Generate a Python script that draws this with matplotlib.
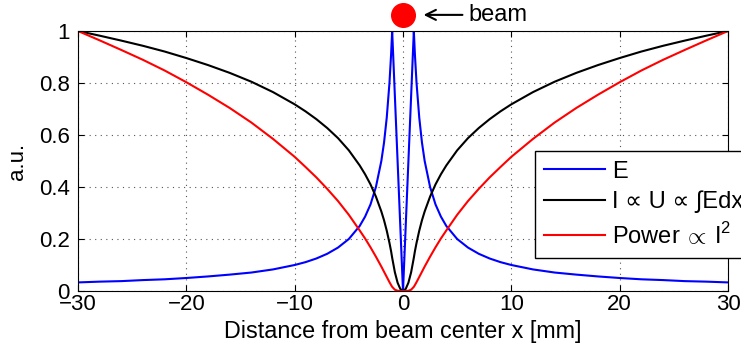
import numpy as np
import matplotlib
matplotlib.use("Agg")
import matplotlib.pyplot as plt

plt.rcParams['font.family'] = ['Liberation Sans', 'DejaVu Sans']
plt.rcParams['mathtext.fontset'] = 'custom'
plt.rcParams['mathtext.rm'] = 'Liberation Sans'

# one-sided positions (mm) and values (curves are symmetric about x=0)
x_half = [0, 0.25, 0.5, 0.75, 1, 1.1, 1.25, 1.5, 1.75, 2, 2.5, 3, 3.5, 4, 5, 6, 7, 8, 9, 10,
          12, 14, 16, 18, 20, 22, 24, 26, 28, 30]
E_half = [0, 0.25, 0.5, 0.75, 1, 0.909, 0.8, 0.667, 0.571, 0.5, 0.4, 0.333, 0.286, 0.25, 0.2,
          0.167, 0.143, 0.125, 0.111, 0.1, 0.083, 0.071, 0.063, 0.056, 0.05, 0.045, 0.042,
          0.038, 0.036, 0.033]
I_half = [0, 0.008, 0.032, 0.072, 0.128, 0.153, 0.185, 0.232, 0.272, 0.306, 0.363, 0.410,
          0.449, 0.483, 0.541, 0.588, 0.627, 0.661, 0.691, 0.718, 0.765, 0.805, 0.839, 0.869,
          0.896, 0.921, 0.943, 0.963, 0.982, 1.0]
P_half = [0, 0.0001, 0.001, 0.005, 0.016, 0.023, 0.034, 0.054, 0.074, 0.094, 0.132, 0.168,
          0.202, 0.233, 0.293, 0.346, 0.393, 0.437, 0.477, 0.516, 0.585, 0.648, 0.704, 0.755,
          0.803, 0.848, 0.889, 0.927, 0.964, 1.0]

labels = ['E', 'I \u221d U \u221d \u222bEdx', r'Power$\,\propto\,$I$^2$']
colors = ['#0000ff', '#000000', '#ff0000']

xh = np.array(x_half)
x = np.concatenate([-xh[:0:-1], xh])
def mirror(v):
    v = np.array(v)
    return np.concatenate([v[:0:-1], v])

FS = 16
fig = plt.figure(figsize=(7.41, 3.54), dpi=100)
ax = fig.add_axes([78/741, 1 - 291/354, 650/741, 260/354])

for vals, lab, c in zip([E_half, I_half, P_half], labels, colors):
    ax.plot(x, mirror(vals), color=c, lw=1.5, label=lab)

ax.set_xlim(-30, 30)
ax.set_ylim(0, 1)
ax.set_xticks([-30, -20, -10, 0, 10, 20, 30])
ax.set_xticklabels(['\u221230', '\u221220', '\u221210', '0', '10', '20', '30'])
ax.set_yticks([0, 0.2, 0.4, 0.6, 0.8, 1])
ax.set_yticklabels(['0', '0.2', '0.4', '0.6', '0.8', '1'])
ax.tick_params(direction='in', labelsize=FS, top=True, right=True, length=4)
ax.tick_params(axis='x', pad=2)
ax.tick_params(axis='y', pad=6)
ax.grid(True, linestyle=(0, (1, 4)), color='#555555', lw=0.8)
ax.set_xlabel('Distance from beam center x [mm]', fontsize=16.8, labelpad=4)
ax.set_ylabel('a.u.', fontsize=FS, labelpad=8)

# beam marker
ax.plot([0], [1.062], 'o', color='#ff0000', markersize=17, clip_on=False)
ax.annotate('beam', xy=(1.9, 1.062), xytext=(6.0, 1.062), fontsize=FS + 1,
            va='center', ha='left', annotation_clip=False,
            arrowprops=dict(arrowstyle='->', color='black', lw=1.5, mutation_scale=18,
                            shrinkA=2, shrinkB=0))

leg = ax.legend(loc='upper left', bbox_to_anchor=(0.703, 0.538), fontsize=17,
                frameon=True, fancybox=False, edgecolor='black', framealpha=1,
                handlelength=2.55, handletextpad=0.3, borderaxespad=0, labelspacing=0.35,
                borderpad=0.4)
leg.get_frame().set_linewidth(1.0)

fig.savefig('out.png', dpi=100)
